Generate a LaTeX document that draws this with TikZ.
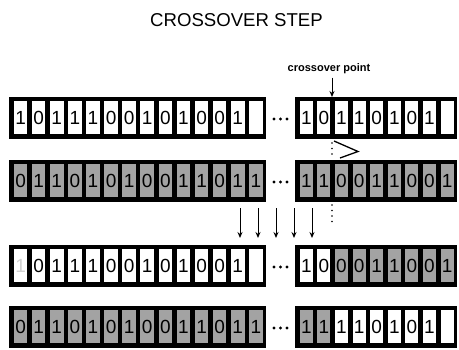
\documentclass[tikz,border=0pt]{standalone}
\usepackage{fontspec}
\setmainfont{Liberation Sans}
\usetikzlibrary{arrows.meta}
\colorlet{W}{white}
\colorlet{G}{black!36}
\tikzset{
  strandbox/.style={fill=black, draw=none, inner sep=0pt, outer sep=0pt},
  cell/.style={draw=none, inner sep=0pt, outer sep=0pt, minimum height=33pt,
    font=\fontsize{19}{19}\selectfont, text=black},
  downarrow/.style={line width=1pt, -{Stealth[length=6pt,width=5pt]}},
  dotline/.style={line width=1.8pt, dash pattern=on 0pt off 5.5pt, line cap=round},
  dotdot/.style={fill=black, circle, inner sep=0pt, minimum size=3.2pt},
}
% #1 name, #2 x0, #3 top, #4 pitch, #5 ncells, #6 list fill/digit
\newcommand{\strand}[6]{%
  \node[strandbox, anchor=north west, minimum width={#4*#5+4}, minimum height=42pt] (#1) at (#2,#3) {};
  \foreach \f/\d [count=\i from 0] in {#6} {
    \node[cell, fill=\f, minimum width={#4-4.5}] (#1-\i) at ({#2+2.5+(\i+0.5)*#4}, {#3+20.5}) {\d};
  }
}
\newcommand{\threedots}[2]{% #1 name, #2 y
  \node[dotdot] (#1a) at (274,#2) {};
  \node[dotdot] (#1b) at (280.5,#2) {};
  \node[dotdot] (#1c) at (287,#2) {};
}
\begin{document}
\begin{tikzpicture}[x=1pt,y=-1pt]
\useasboundingbox (0,0) rectangle (459,349);
\node[font=\fontsize{18.6}{20}\selectfont] (title) at (236.5,20) {CROSSOVER STEP};
\node[font=\bfseries\fontsize{11}{12}\selectfont] (cp) at (329,69) {crossover point};

% row 1
\strand{r1L}{9}{97}{18.1}{14}{W/1,W/0,W/1,W/1,W/1,W/0,W/0,W/1,W/0,W/1,W/0,W/0,W/1,W/{}}
\strand{r1R}{295}{97}{17.6}{9}{W/1,W/0,W/1,W/1,W/0,W/1,W/0,W/1,W/{}}
\threedots{d1}{119}
% row 2
\strand{r2L}{9}{160}{18.1}{14}{G/0,G/1,G/1,G/0,G/1,G/0,G/1,G/0,G/0,G/1,G/1,G/0,G/1,G/1}
\strand{r2R}{295}{160}{17.6}{9}{G/1,G/1,G/0,G/0,G/1,G/1,G/0,G/0,G/1}
\threedots{d2}{182}
% row 3
\strand{r3L}{9}{245}{18.1}{14}{W/{\color{black!18}1},W/0,W/1,W/1,W/1,W/0,W/0,W/1,W/0,W/1,W/0,W/0,W/1,W/{}}
\strand{r3R}{295}{245}{17.6}{9}{W/1,W/0,G/0,G/0,G/1,G/1,G/0,G/0,G/1}
\threedots{d3}{267}
% row 4
\strand{r4L}{9}{306}{18.1}{14}{G/0,G/1,G/1,G/0,G/1,G/0,G/1,G/0,G/0,G/1,G/1,G/0,G/1,G/1}
\strand{r4R}{295}{306}{17.6}{9}{G/1,G/1,W/1,W/1,W/0,W/1,W/0,W/1,W/{}}
\threedots{d4}{328}

% crossover point arrow
\coordinate (xo1) at (332,97);
\draw[downarrow] (xo1 |- cp.south) -- (xo1);
% dotted crossover line
\coordinate (xa) at (332,143);
\coordinate (xb) at (332,158);
\coordinate (xc) at (332,205);
\coordinate (xd) at (332,224);
\draw[dotline] (xa) -- (xb);
\draw[dotline] (xc) -- (xd);
% chevron
\coordinate (cvA) at (334,141);
\coordinate (cvT) at (358,151.5);
\coordinate (cvB) at (340,158);
\draw[line width=1.3pt, line join=miter] (cvA) -- (cvT) -- (cvB);
% down arrows
\foreach \x in {240,258,276,294,312} {
  \coordinate (da\x) at (\x,208);
  \coordinate (db\x) at (\x,238);
  \draw[downarrow] (da\x) -- (db\x);
}
\end{tikzpicture}
\end{document}
